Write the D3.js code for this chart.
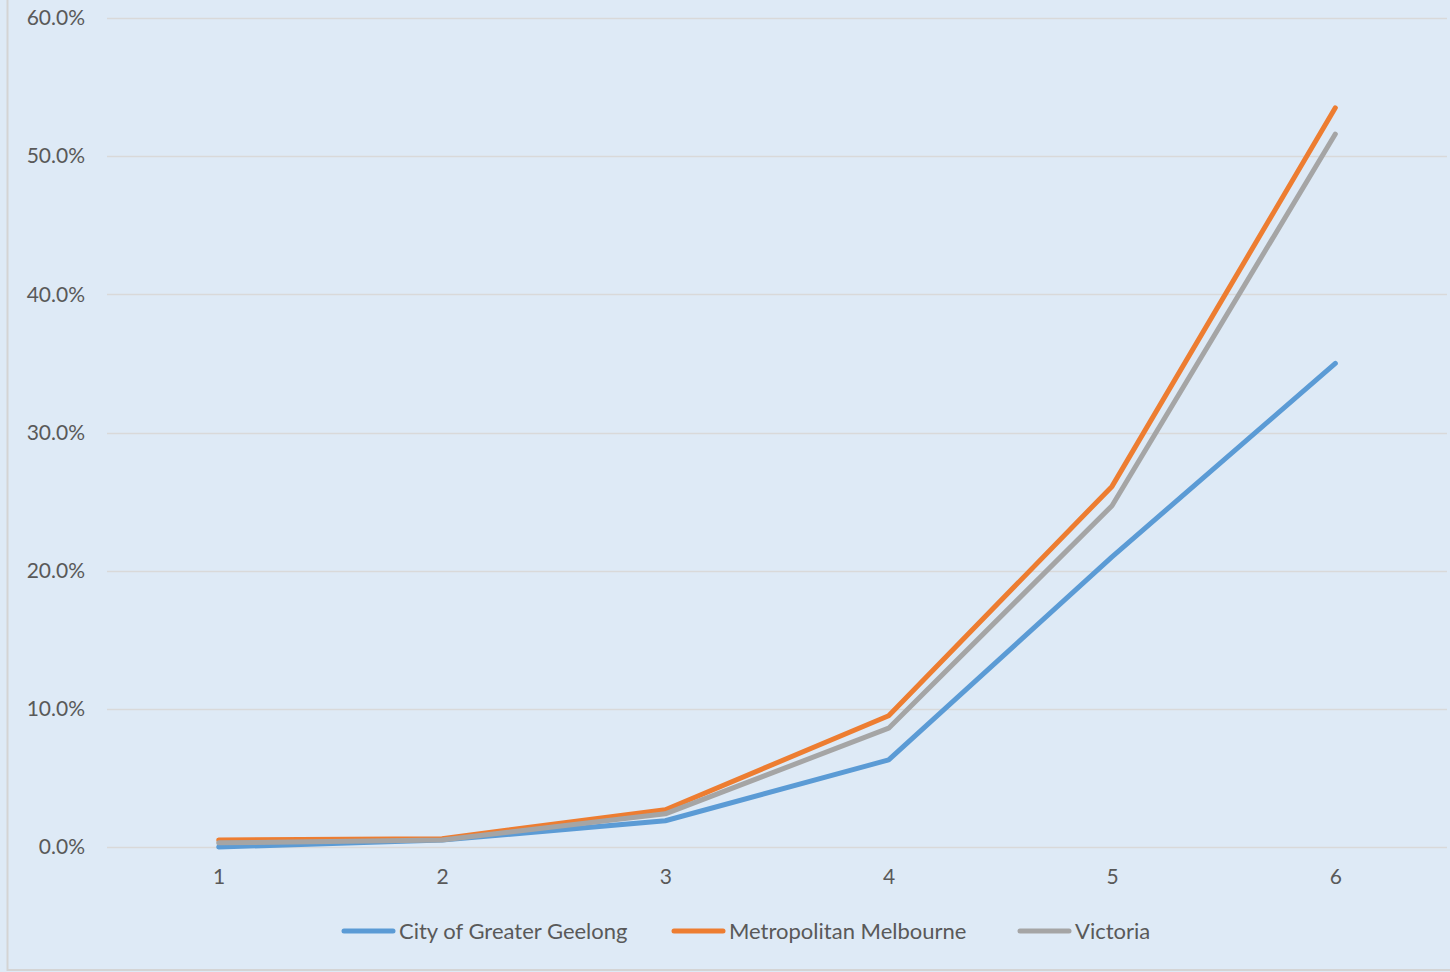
<!DOCTYPE html>
<html>
<head>
<meta charset="utf-8">
<script src="https://cdn.jsdelivr.net/npm/d3@7"></script>
<style>
  html, body { margin: 0; padding: 0; background: #DEEAF6; }
  svg { display: block; }
  text { font-family: Lato, "Open Sans", sans-serif; fill: #595959; }
</style>
</head>
<body>
<svg id="chart" width="1450" height="972"></svg>
<script>
const categories = [1, 2, 3, 4, 5, 6];
const seriesNames = ["City of Greater Geelong", "Metropolitan Melbourne", "Victoria"];
const geelong = [0.000, 0.005, 0.019, 0.063, 0.210, 0.350];
const melbourne = [0.005, 0.006, 0.027, 0.095, 0.261, 0.535];
const victoria = [0.003, 0.005, 0.024, 0.086, 0.247, 0.516];
const yTicks = [0, 0.1, 0.2, 0.3, 0.4, 0.5, 0.6];
const colors = ["#5B9BD5", "#ED7D31", "#A5A5A5"];

const seriesValues = [geelong, melbourne, victoria];

const svg = d3.select("#chart");
const W = 1450, H = 972;

// chart area background & border
svg.append("rect").attr("x", 7.5).attr("y", -5).attr("width", W + 10).attr("height", 975)
  .attr("fill", "#DEEAF6").attr("stroke", "#D4D4D4").attr("stroke-width", 2);

const x = d3.scalePoint().domain(categories).range([107, 1447]).padding(0.5);
const y = d3.scaleLinear().domain([0, 0.6]).range([847, 18]);

// gridlines
svg.append("g").selectAll("line").data(yTicks).join("line")
  .attr("x1", 107).attr("x2", 1447)
  .attr("y1", d => Math.round(y(d)) + 0.5).attr("y2", d => Math.round(y(d)) + 0.5)
  .attr("stroke", "#D9D9D9").attr("stroke-width", 1.5);

// y axis labels
const yAxis = d3.axisLeft(y).tickValues(yTicks).tickFormat(d3.format(".1%")).tickSize(0).tickPadding(0);
const gy = svg.append("g").attr("transform", "translate(85,0)").call(yAxis);
gy.select(".domain").remove();
gy.selectAll("text").attr("font-size", 21).style("font-family", "Lato, 'Open Sans', sans-serif").attr("fill", "#595959");

// x axis labels
const xAxis = d3.axisBottom(x).tickSize(0).tickPadding(0);
const gx = svg.append("g").attr("transform", "translate(0,869)").call(xAxis);
gx.select(".domain").remove();
gx.selectAll("text").attr("font-size", 21).style("font-family", "Lato, 'Open Sans', sans-serif").attr("fill", "#595959");

// lines
const line = d3.line().x((d, i) => x(categories[i])).y(d => y(d));
seriesValues.forEach((vals, i) => {
  svg.append("path").datum(vals).attr("d", line)
    .attr("fill", "none").attr("stroke", colors[i]).attr("stroke-width", 5)
    .attr("stroke-linecap", "round").attr("stroke-linejoin", "round");
});

// legend
const legendX = [342, 672, 1018];
const lg = svg.append("g");
seriesNames.forEach((name, i) => {
  lg.append("line").attr("x1", legendX[i] + 2).attr("x2", legendX[i] + 51)
    .attr("y1", 931).attr("y2", 931)
    .attr("stroke", colors[i]).attr("stroke-width", 5).attr("stroke-linecap", "round");
  lg.append("text").attr("x", legendX[i] + 57).attr("y", 938.5)
    .attr("font-size", 22).text(name);
});
</script>
</body>
</html>
